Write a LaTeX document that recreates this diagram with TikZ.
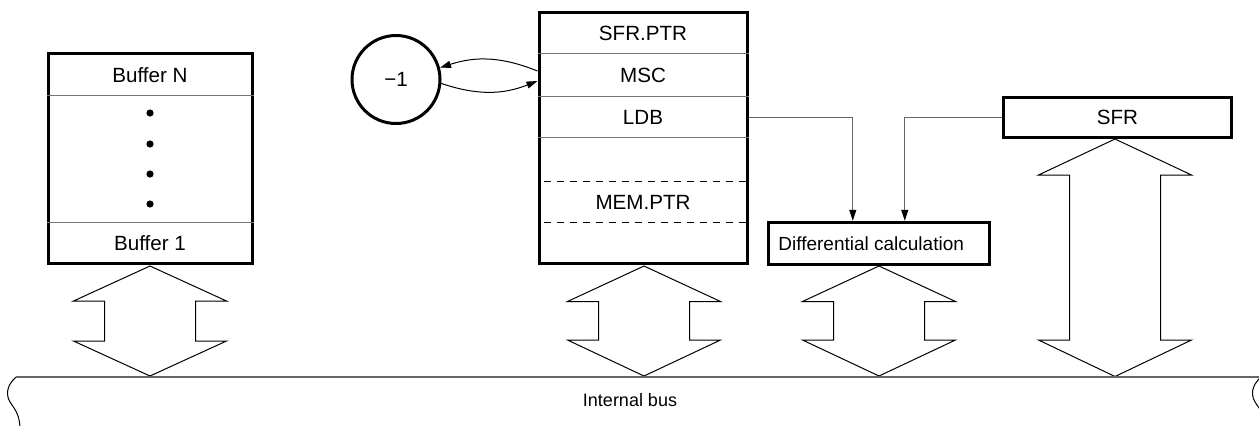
\documentclass[tikz,border=0pt]{standalone}
\usepackage{fontspec}
\setmainfont{Liberation Sans}
\usetikzlibrary{arrows.meta,calc}
\newcommand\busarrow[5]{%
  \draw[bigarrow] (#1,#2) -- ({#1+76.5},#3) -- ({#1+45.5},#3) -- ({#1+45.5},#4)
    -- ({#1+76.5},#4) -- (#1,#5) -- ({#1-76.5},#4) -- ({#1-45.5},#4)
    -- ({#1-45.5},#3) -- ({#1-76.5},#3) -- cycle;}
\begin{document}
\begin{tikzpicture}[x=0.5pt,y=-0.5pt,
  box/.style={draw, line width=1.5pt, inner sep=0pt},
  lbl/.style={font=\fontsize{10.3}{12}\selectfont, inner sep=0pt},
  sep/.style={draw=black!55, line width=0.5pt},
  dsep/.style={draw=black, line width=0.5pt, dash pattern=on 3.5pt off 3pt},
  conn/.style={draw=black!60, line width=0.5pt, -{Triangle[length=5.5pt,width=3.5pt,color=black]}},
  loopc/.style={draw=black, line width=0.5pt, -{Triangle[length=5.5pt,width=3.5pt]}},
  bigarrow/.style={draw, line width=0.5pt, line join=miter},
  busline/.style={draw=black!60, line width=0.75pt},
  wave/.style={draw, line width=0.5pt}]
\useasboundingbox (0,0) rectangle (1259,425);

% Buffer stack
\node[box, minimum width=102pt, minimum height=105pt] (buf) at (150,158) {};
\node[lbl] (bufN) at (150,75) {Buffer N};
\node[lbl] (buf1) at (150,243) {Buffer 1};
\draw[sep] (buf.west |- 0,95) -- (buf.east |- 0,95);
\draw[sep] (buf.west |- 0,222) -- (buf.east |- 0,222);
\foreach \yy in {113,144,174,204} \fill (150,\yy) circle[radius=1.8pt];

% Middle register stack
\node[box, minimum width=104pt, minimum height=125.5pt] (mid) at (643,137.5) {};
\node[lbl] (sfrptr) at (643,33) {SFR.PTR};
\node[lbl] (msc) at (643,75) {MSC};
\node[lbl] (ldb) at (643,117) {LDB};
\node[lbl] (memptr) at (643,202) {MEM.PTR};
\draw[sep] (mid.west |- 0,53) -- (mid.east |- 0,53);
\draw[sep] (mid.west |- 0,96) -- (mid.east |- 0,96);
\draw[sep] (mid.west |- 0,137) -- (mid.east |- 0,137);
\draw[dsep] ([xshift=3pt]mid.west |- 0,181) -- (mid.east |- 0,181);
\draw[dsep] ([xshift=3pt]mid.west |- 0,222) -- (mid.east |- 0,222);

% -1 circle
\node[draw, circle, line width=1.5pt, minimum size=44pt, inner sep=0pt, lbl] (m1) at (396,79.5) {−1};
\draw[loopc] ([yshift=2pt]mid.west |- msc) to[bend right=20] (m1.15);
\draw[loopc] (m1.-5) to[bend right=20] ([yshift=-3pt]mid.west |- msc);

% Differential calculation
\node[box, minimum width=110.5pt, minimum height=21pt] (diff) at (878.8,243.3) {};
\node[font=\fontsize{9.5}{11}\selectfont, inner sep=0pt, anchor=west] (difft) at (778,243.5) {Differential calculation};

% SFR
\node[box, minimum width=114.2pt, minimum height=20.3pt] (sfr) at (1117.5,117.3) {};
\node[lbl] (sfrt) at (1117.5,117.5) {SFR};

\draw[conn] (ldb -| mid.east) -| ($(diff.north)+(-26,0)$);
\draw[conn] (sfr.west) -| ($(diff.north)+(26,0)$);

% Bus arrows
\busarrow{150}{266}{301}{341}{376}
\busarrow{644}{266}{301.5}{340}{376}
\busarrow{879}{266}{301.5}{340}{376}
\busarrow{1115}{139}{175}{340}{376.5}

% Internal bus
\draw[busline] (16,377) -- (1261,377);
\draw[wave] (16,377) .. controls (6,386) and (5,396) .. (12,405) .. controls (18,413) and (20,420) .. (20,430);
\draw[wave] (1261,377) .. controls (1251,386) and (1250,396) .. (1257,405) .. controls (1263,413) and (1265,420) .. (1265,430);
\node[font=\fontsize{9}{11}\selectfont, inner sep=0pt] (bus) at (630,400) {Internal bus};
\end{tikzpicture}
\end{document}
